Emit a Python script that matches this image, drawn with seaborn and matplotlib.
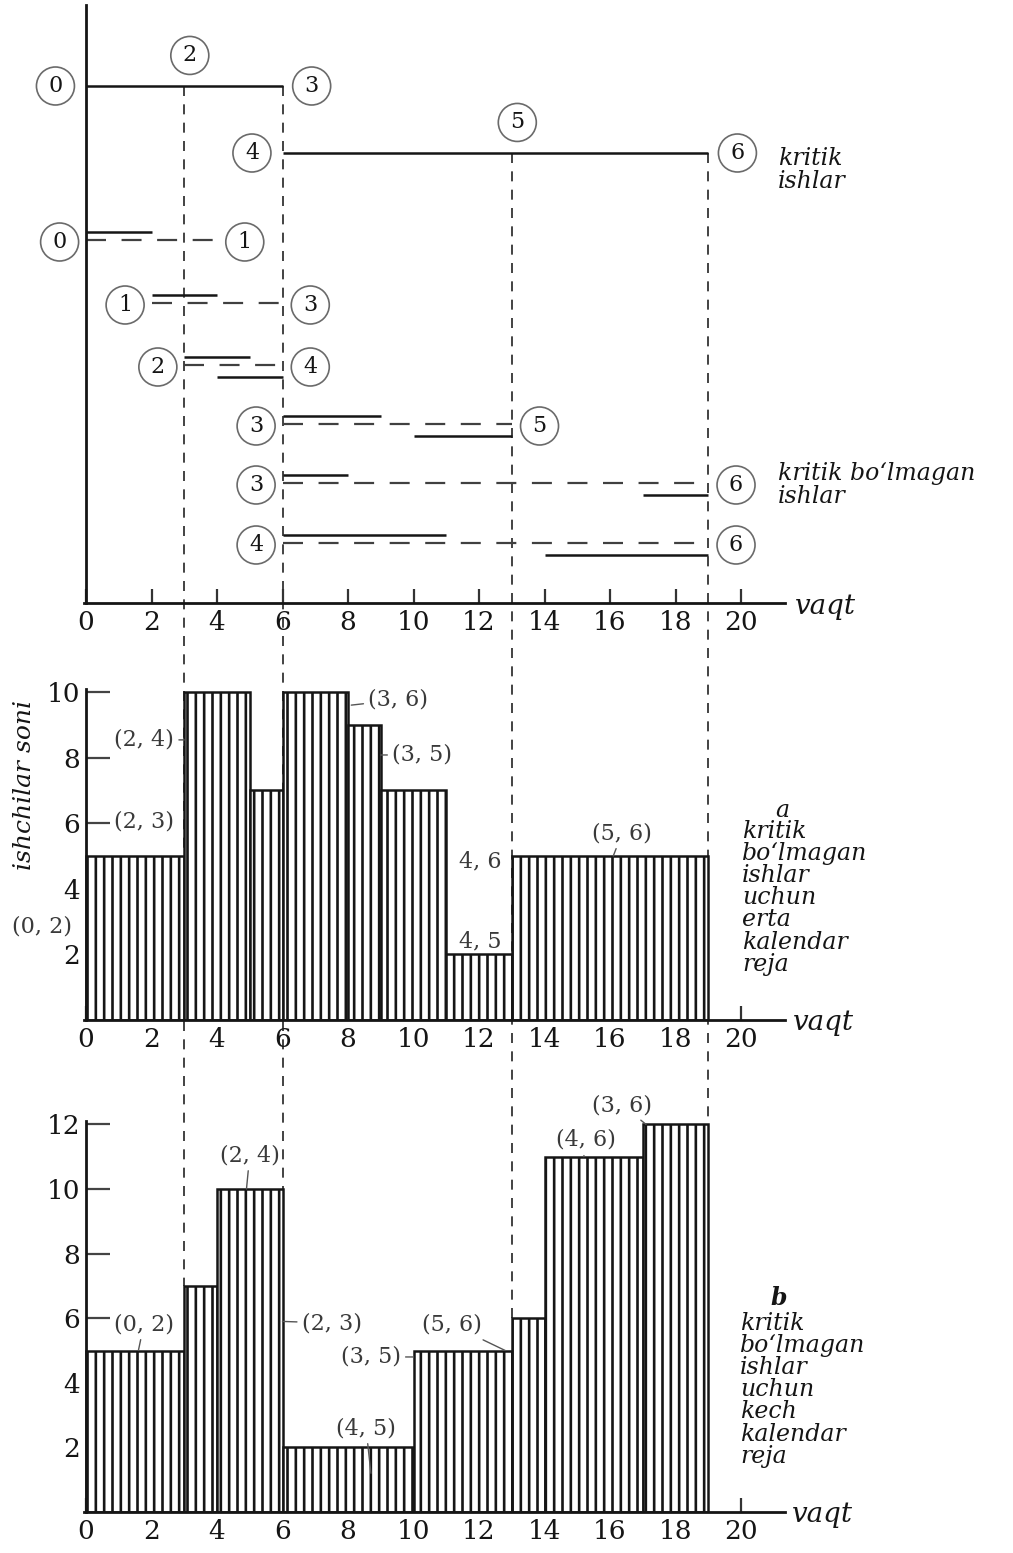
import matplotlib
matplotlib.use("Agg")
import matplotlib.pyplot as plt
import numpy as np
import pandas as pd
import seaborn as sns

# ---------------- data ----------------
time_ticks = [0, 2, 4, 6, 8, 10, 12, 14, 16, 18, 20]

# critical path (two rows of the top chart)
crit1_nodes = ["0", "2", "3"]
crit1_times = [0, 3, 6]
crit2_nodes = ["4", "5", "6"]
crit2_times = [6, 13, 19]

# non-critical activities
nc_from = ["0", "1", "2", "3", "3", "4"]
nc_to = ["1", "3", "4", "5", "6", "6"]
nc_early_start = [0, 2, 3, 6, 6, 6]
nc_duration = [2, 2, 2, 3, 2, 5]
nc_late_finish = [4, 6, 6, 13, 19, 19]
nc_late_drawn = [False, False, True, True, True, True]

event_times = [3, 6, 13, 19]

# workers histogram: early calendar plan (a)
early_edges = [0, 3, 5, 6, 8, 9, 11, 13, 19]
early_workers = [5, 10, 7, 10, 9, 7, 2, 5]
early_labels = ["(0, 2)", "(2, 3)", "(2, 4)", "(3, 6)", "(3, 5)", "4, 6", "4, 5", "(5, 6)"]
early_yticks = [2, 4, 6, 8, 10]

# workers histogram: late calendar plan (b)
late_edges = [0, 3, 4, 6, 10, 13, 14, 17, 19]
late_workers = [5, 7, 10, 2, 5, 6, 11, 12]
late_labels = ["(0, 2)", "(2, 4)", "(2, 3)", "(4, 5)", "(3, 5)", "(5, 6)", "(4, 6)", "(3, 6)"]
late_yticks = [2, 4, 6, 8, 10, 12]

txt_critical = "kritik\nishlar"
txt_noncritical = "kritik bo\u2018lmagan\nishlar"
txt_block_a = "kritik\nbo\u2018lmagan\nishlar\nuchun\nerta\nkalendar\nreja"
txt_block_b = "kritik\nbo\u2018lmagan\nishlar\nuchun\nkech\nkalendar\nreja"
txt_time = "vaqt"
txt_ylabel = "ishchilar soni"

# ---------------- layout (not data) ----------------
W, H = 1013, 1553
T0PX, PPU = 86.0, 32.75
ROW_Y = [86, 153, 240, 303, 365, 424, 483, 543]   # top-panel row positions (pixel-like units)

early_label_pos = [(-1.35, 2.84, None), (1.78, 6.04, None), (1.78, 8.54, (3.0, 8.54)),
                   (9.53, 9.76, (8.1, 9.6)), (10.26, 8.08, (9.0, 8.08)),
                   (12.03, 4.82, None), (12.03, 2.38, None), (16.37, 5.70, (16.1, 5.0))]
late_label_pos = [(1.77, 5.82, (1.6, 5.0)), (5.0, 11.05, (4.9, 10.0)), (7.5, 5.85, (6.0, 5.9)),
                  (8.55, 2.6, (8.7, 1.2)), (8.7, 4.8, (10.0, 4.8)), (11.18, 5.79, (12.8, 5.0)),
                  (15.27, 11.52, (15.2, 11.0)), (16.37, 12.6, (17.1, 12.0))]

sns.set_style("white")
plt.rcParams["font.family"] = ["DejaVu Serif"]
plt.rcParams["hatch.color"] = "black"
plt.rcParams["hatch.linewidth"] = 1.9
plt.rcParams["axes.linewidth"] = 2.0

INK = "#151515"
LBL = "#3a3a3a"


def px_rect(x0, ytop, x1, ybot):
    return [x0 / W, 1 - ybot / H, (x1 - x0) / W, (ybot - ytop) / H]


def xlim_for(x0, x1):
    return ((x0 - T0PX) / PPU, (x1 - T0PX) / PPU)


fig = plt.figure(figsize=(W / 100, H / 100), dpi=100)
fig.patch.set_facecolor("white")

overlay = fig.add_axes([0, 0, 1, 1], zorder=1)
overlay.set_xlim(*xlim_for(0, W))
overlay.set_ylim(H, 0)
overlay.axis("off")

MID_PPU, BOT_PPU = 32.8, 32.3
ax_top = fig.add_axes(px_rect(84, 5, 785, 603), zorder=2)
ax_mid = fig.add_axes(px_rect(84, 1020 - 10.1 * MID_PPU, 785, 1020), zorder=2)
ax_bot = fig.add_axes(px_rect(84, 1512 - 12.1 * BOT_PPU, 785, 1512), zorder=2)

for ax in (ax_top, ax_mid, ax_bot):
    ax.set_facecolor("none")
    ax.set_xlim(*xlim_for(84, 785))
    for s in ("top", "right"):
        ax.spines[s].set_visible(False)
    ax.spines["left"].set_position(("data", 0))
    ax.spines["left"].set_color(INK)
    ax.spines["bottom"].set_color(INK)
    ax.set_xticks(time_ticks)
    ax.set_xticklabels([str(t) for t in time_ticks])
    ax.tick_params(axis="x", which="major", bottom=True, direction="in", length=10,
                   width=1.6, color="#333", labelsize=19, labelcolor=INK, pad=5)
    ax.set_axisbelow(True)

ax_top.set_ylim(603, 5)
ax_top.set_yticks([])
ax_mid.set_ylim(0, 10.1)
ax_bot.set_ylim(0, 12.1)


def node(ax, label, t, y, dx, dy):
    ax.annotate(label, xy=(t, y), xytext=(dx, dy), textcoords="offset points",
                ha="center", va="center", fontsize=16, color=INK,
                annotation_clip=False,
                bbox=dict(boxstyle="circle,pad=0.36", fc="white", ec="#6a6a6a", lw=1.2))


# ---- top panel: critical works ----
for times, nodes, ry in ((crit1_times, crit1_nodes, ROW_Y[0]), (crit2_times, crit2_nodes, ROW_Y[1])):
    ax_top.hlines(ry, times[0], times[-1], color=INK, lw=1.8)
    node(ax_top, nodes[0], times[0], ry, -22, 0)
    node(ax_top, nodes[1], times[1], ry, 4, 22)
    node(ax_top, nodes[2], times[2], ry, 21, 0)

ax_top.text((778 - T0PX) / PPU, (ROW_Y[1] + 17), txt_critical, fontsize=17, style="italic",
            color=INK, ha="left", va="center", linespacing=1.0, clip_on=False)

# ---- top panel: non-critical works ----
for i in range(len(nc_from)):
    ry = ROW_Y[2 + i]
    es, d, lf = nc_early_start[i], nc_duration[i], nc_late_finish[i]
    ax_top.hlines(ry - 8, es, es + d, color=INK, lw=1.8)
    ax_top.hlines(ry, es, lf, color="#404040", lw=1.6, linestyles=[(0, (9, 7))])
    if nc_late_drawn[i]:
        ax_top.hlines(ry + 12, lf - d, lf, color=INK, lw=1.8)
    node(ax_top, nc_from[i], es, ry + 2, -19, 0)
    node(ax_top, nc_to[i], lf, ry + 2, 20, 0)

ax_top.text((778 - T0PX) / PPU, ROW_Y[6] + 2, txt_noncritical, fontsize=17, style="italic",
            color=INK, ha="left", va="center", linespacing=1.0, clip_on=False)
ax_top.text((795 - T0PX) / PPU, 606, txt_time, fontsize=20, style="italic",
            color=INK, ha="left", va="center", clip_on=False)


# ---- histograms ----
def workers_hist(ax, edges, workers):
    e = np.asarray(edges, float)
    df = pd.DataFrame({"t": (e[:-1] + e[1:]) / 2, "workers": workers})
    sns.histplot(data=df, x="t", weights="workers", bins=edges, ax=ax,
                 color="white", edgecolor=INK, linewidth=1.8, alpha=1.0, legend=False)
    for p in ax.patches:
        p.set_facecolor("white")
        p.set_hatch("||")
        p.set_zorder(1.5)
    ax.set_xlabel("")
    ax.set_ylabel("")


workers_hist(ax_mid, early_edges, early_workers)
workers_hist(ax_bot, late_edges, late_workers)
ax_mid.set_xlim(*xlim_for(84, 785)); ax_mid.set_ylim(0, 10.1)
ax_bot.set_xlim(*xlim_for(84, 785)); ax_bot.set_ylim(0, 12.1)

for ax, ticks in ((ax_mid, early_yticks), (ax_bot, late_yticks)):
    ax.set_yticks(ticks)
    ax.set_yticklabels([str(v) for v in ticks])
    ax.tick_params(axis="y", which="major", left=True, direction="in", length=17,
                   width=1.6, color="#444", labelsize=19, labelcolor=INK, pad=4)

ax_mid.set_ylabel(txt_ylabel, fontsize=18, style="italic", color=INK)
ax_mid.yaxis.set_label_coords((36 - 84) / 701, 0.71)


def bar_labels(ax, labels, positions):
    for lab, (tx, ty, tgt) in zip(labels, positions):
        if tgt is None:
            ax.text(tx, ty, lab, fontsize=16, color=LBL, ha="center", va="center",
                    clip_on=False, zorder=5)
        else:
            ax.annotate(lab, xy=tgt, xytext=(tx, ty), fontsize=16, color=LBL,
                        ha="center", va="center", annotation_clip=False, zorder=5,
                        arrowprops=dict(arrowstyle="-", color="#555", lw=1.0,
                                        shrinkA=1, shrinkB=0))


bar_labels(ax_mid, early_labels, early_label_pos)
bar_labels(ax_bot, late_labels, late_label_pos)

ax_mid.text((775 - T0PX) / PPU, (1020 - 810) / MID_PPU, "a", fontsize=17, style="italic",
            color=INK, ha="left", va="center", clip_on=False)
ax_mid.text((742 - T0PX) / PPU, (1020 - 820) / MID_PPU, txt_block_a, fontsize=17,
            style="italic", color=INK, ha="left", va="top", linespacing=0.95, clip_on=False)
ax_mid.text((793 - T0PX) / PPU, (1020 - 1022) / MID_PPU, txt_time, fontsize=20, style="italic",
            color=INK, ha="left", va="center", clip_on=False)

ax_bot.text((770 - T0PX) / PPU, (1512 - 1298) / BOT_PPU, "b", fontsize=17, style="italic",
            color=INK, ha="left", va="center", clip_on=False, weight="bold")
ax_bot.text((740 - T0PX) / PPU, (1512 - 1312) / BOT_PPU, txt_block_b, fontsize=17,
            style="italic", color=INK, ha="left", va="top", linespacing=0.95, clip_on=False)
ax_bot.text((792 - T0PX) / PPU, (1512 - 1515) / BOT_PPU, txt_time, fontsize=20, style="italic",
            color=INK, ha="left", va="center", clip_on=False)

# ---- dashed event lines running through all three panels ----
inv = overlay.transData.inverted()
for t in event_times:
    ry = ROW_Y[0] if t in crit1_times else ROW_Y[1]
    adj = [w for a, b, w in zip(late_edges[:-1], late_edges[1:], late_workers) if a <= t <= b]
    h = max(adj) if adj else 0
    p_top = ax_top.transData.transform((t, ry))
    p_bot = ax_bot.transData.transform((t, h))
    pts = inv.transform(np.array([p_top, p_bot]))
    overlay.plot(pts[:, 0], pts[:, 1], color="#222", lw=1.2, ls=(0, (6, 5)))

fig.savefig("out.png", dpi=100, facecolor="white")
